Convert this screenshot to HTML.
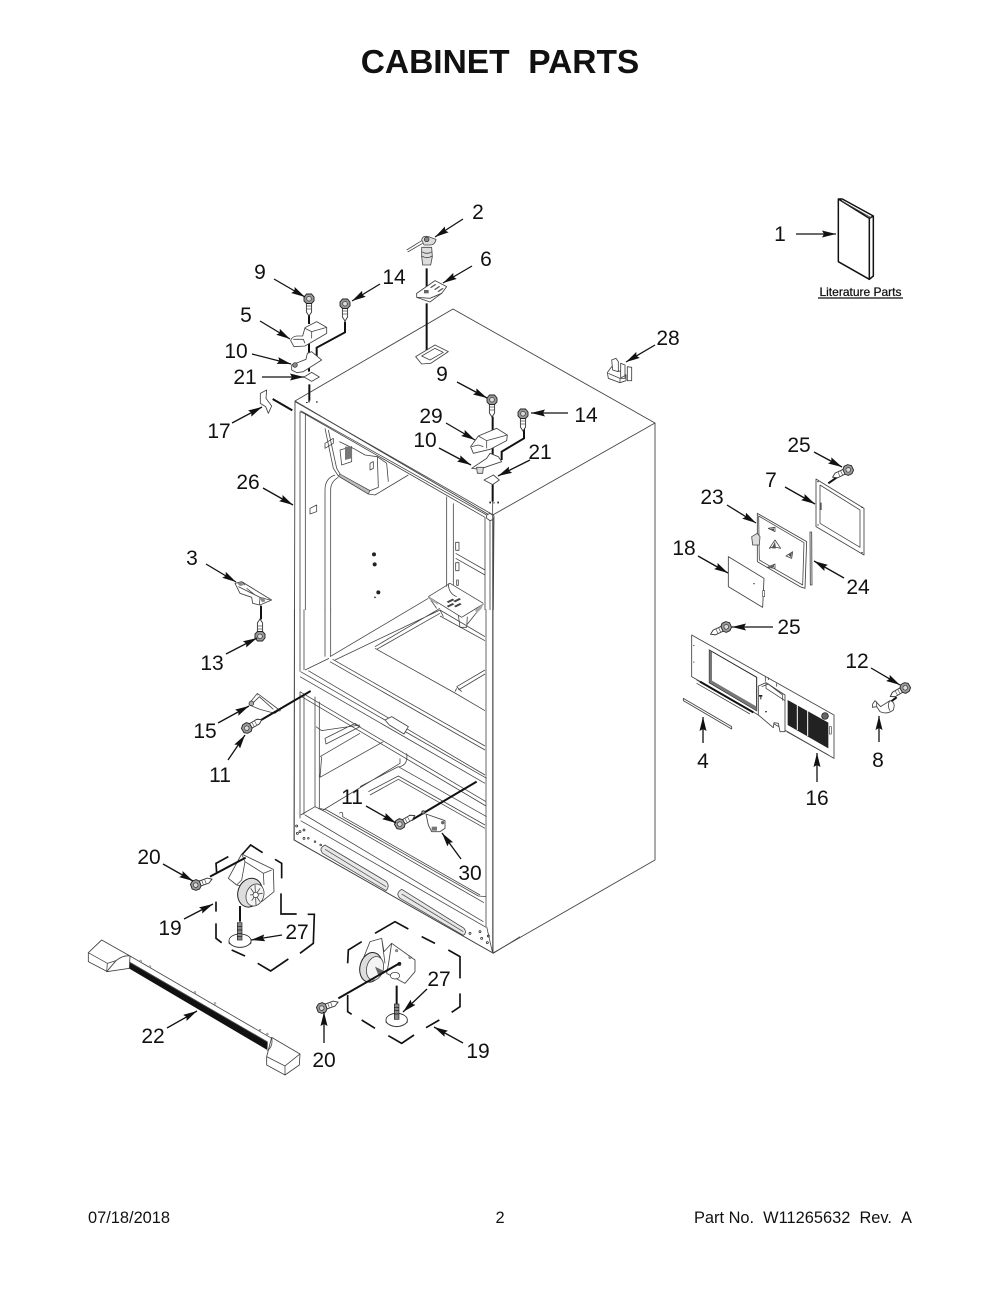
<!DOCTYPE html>
<html><head><meta charset="utf-8"><title>Cabinet Parts</title>
<style>
html,body{margin:0;padding:0;background:#fff}
svg{display:block}
text{font-family:"Liberation Sans",Arial,sans-serif;fill:#111}
.l text{font-size:21px;text-anchor:middle}
.a line{stroke:#111;stroke-width:1.3;marker-end:url(#ah)}
.t{fill:none;stroke:#444;stroke-width:2.4;stroke-linejoin:round}
.p{fill:#fff;stroke:#444;stroke-width:2.6;stroke-linejoin:round}
.g{fill:#ddd;stroke:#444;stroke-width:2.4;stroke-linejoin:round}
.k{fill:none;stroke:#111;stroke-width:6}
.d{fill:none;stroke:#111;stroke-width:5}
.c{fill:none;stroke:#555;stroke-width:2.4}
</style></head><body>
<svg width="1000" height="1294" viewBox="0 0 1000 1294" xmlns="http://www.w3.org/2000/svg">
<defs>
<marker id="ah" markerUnits="userSpaceOnUse" markerWidth="15" markerHeight="8" refX="14" refY="3.5" orient="auto"><path d="M0,0 L14,3.5 L0,7 L2,3.5 z" fill="#111"/></marker>
<g id="bolt"><path d="M-2.6,4 L-2.6,13 L0,17 L2.6,13 L2.6,4 z" fill="#fff" stroke="#333" stroke-width=".9"/><path d="M-2.6,7 H2.6 M-2.6,10 H2.6" stroke="#555" stroke-width=".7"/><path d="M-5,-2 L-2.5,-5 L2.5,-5 L5,-2 L5,2 L2.5,4.5 L-2.5,4.5 L-5,2 z" fill="#999" stroke="#222" stroke-width=".9"/><circle cx="0" cy="-.3" r="2.3" fill="#ddd" stroke="#333" stroke-width=".7"/></g>
</defs>
<rect width="1000" height="1294" fill="#fff"/>

<text x="500" y="73" text-anchor="middle" font-size="33.5" font-weight="bold">CABINET&#160;&#160;PARTS</text>
<text x="88" y="1223" font-size="16.4">07/18/2018</text>
<text x="500" y="1223" font-size="16.4" text-anchor="middle">2</text>
<text x="912" y="1223" font-size="16.4" text-anchor="end">Part No.&#160;&#160;W11265632&#160;&#160;Rev.&#160;&#160;A</text>

<!-- cabinet shell -->
<g fill="none" stroke="#444" stroke-width=".9">
<path d="M295,401 L453,309 L655,423 L655,860 L493,953 L294,840 Z"/>
<path d="M491,516 L655,423 M493,520 L493,953 M491,516 L295,401"/>
</g>

<!-- upper interior -->
<g transform="translate(290,400) scale(.33333)">
<path class="t" d="M15,5 L610,345 M32,32 L590,345 M45,42 L585,352 L585,630 M30,35 L30,630 M46,42 L46,630 M30,35 L46,42"/>
<path class="t" d="M600,340 L612,350 L610,630 M590,345 L600,355 L600,630"/>
<path class="t" d="M105,270 Q105,235 135,225 M122,630 L122,270 Q122,245 145,232 M105,270 L105,630"/>
<path class="t" d="M105,85 L130,205 L145,228 L235,282 L255,285 L355,225 M115,90 L140,205 L152,225 L240,272 L265,262 L262,170 L290,190 L295,245"/>
<path class="t" d="M148,125 L190,145 L225,165 L262,170 M150,150 L185,140 L185,185 L155,195 Z M240,190 L250,185 L250,205 L240,210 Z M105,130 L130,115 L130,130 L105,145 Z"/>
<path d="M165,140 L183,140 L183,175 L165,180 Z" fill="#777"/>
<path d="M150,222 L240,272 L235,282 L145,228 Z" fill="#bbb" stroke="#444" stroke-width="2"/>
<path class="t" d="M470,290 L470,560 M490,310 L490,555 M497,460 L585,510 M497,475 L585,525"/>
<rect class="t" x="497" y="427" width="10" height="24"/><rect class="t" x="497" y="488" width="10" height="24"/><rect class="t" x="500" y="540" width="5" height="16"/>
<path class="t" d="M60,325 L80,315 L80,335 L60,342 Z"/>
<circle cx="252" cy="463" r="6" fill="#222"/><circle cx="254" cy="493" r="6" fill="#222"/><circle cx="265" cy="577" r="6" fill="#222"/><circle cx="255" cy="592" r="2.5" fill="#222"/>
<path class="p" d="M590,345 L600,340 L612,348 L610,358 L600,362 L590,355 Z"/>
</g>

<!-- lower body -->
<g transform="translate(280,500) scale(.33333)">
<path class="t" d="M60,328 L60,515 M72,328 L72,510 M135,328 L135,470 M152,328 L152,468 M618,328 L618,1280 M60,575 L60,955 M72,585 L72,945"/>
<path class="t" d="M43,328 L43,1020"/>
<path class="t" d="M62,515 L620,835 M75,510 L147,475 M150,485 L615,750 M158,478 L615,738 M85,512 L615,825 M60,530 L615,850 M60,575 L618,905 M60,587 L618,918"/>
<path class="t" d="M150,470 L445,295 M165,480 L480,330 M285,440 L480,325 M290,448 L480,340 M285,445 L530,582 L615,632 M530,560 L615,510 M535,570 L615,522 M480,330 L615,410 M480,348 L615,422 M480,330 L490,350"/>
<path class="t" d="M445,290 L510,250 L530,262 L610,310 M445,290 L545,352 L610,312 M445,290 L470,325 M535,345 L540,382 L560,382 L562,350 M610,312 L560,375 M505,250 Q505,280 530,290"/>
<path d="M500,305 l18,-9 l5,4 l-18,9z M500,318 l18,-9 l5,4 l-18,9z M522,318 l18,-9 l5,4 l-18,9z M520,303 l18,-9 l5,4 l-18,9z" fill="#444"/>
<path d="M445,290 L470,305 L475,315 L450,300Z M585,330 L610,310 L605,325 L590,340Z" fill="#aaa"/>
<path class="t" d="M530,560 L545,575 M530,565 L525,575"/>
<path class="p" d="M315,660 L335,650 L385,680 L372,702 L328,675 Z"/>
<path class="t" d="M105,590 L105,920 M118,605 L118,925 M108,680 L125,692 L240,675 M135,715 L225,670 L240,680 L138,732 Z M120,770 L240,700 M120,832 L310,725 M125,770 L120,832"/>
<path class="t" d="M360,775 L360,790 L130,930 M380,760 Q385,795 358,800 M240,860 L355,800 L620,950 M265,875 L355,828 L615,975 M270,885 L355,838 L615,985"/>
<path class="t" d="M62,945 L105,920 L135,935 M75,945 L610,1265 M62,962 L618,1282 M140,930 L595,1188 L618,1190 M118,925 L140,930 M135,935 L612,1208 M178,940 Q190,930 188,950 L600,1185"/>
<path class="t" d="M43,1020 L640,1360 L720,1310 M620,1280 L638,1360 M638,0 L638,1360"/>
<path d="M135,1035 L320,1145 Q330,1160 318,1172 L128,1060 Q115,1045 135,1035 Z" fill="#e8e8e8" stroke="#444" stroke-width="2.4"/>
<path d="M365,1168 L552,1285 Q562,1298 550,1306 L360,1195 Q345,1180 365,1168 Z" fill="#e8e8e8" stroke="#444" stroke-width="2.4"/>
<path class="c" stroke-width="3" d="M135,1048 L318,1160 M365,1182 L550,1295"/>
<g fill="none" stroke="#222" stroke-width="2.2"><circle cx="50" cy="978" r="3"/><circle cx="60" cy="995" r="3"/><circle cx="72" cy="990" r="3"/><circle cx="52" cy="1000" r="3"/><circle cx="72" cy="1015" r="3"/><circle cx="85" cy="1015" r="2.5"/><circle cx="105" cy="1025" r="2.5"/><circle cx="122" cy="1035" r="2.5"/><circle cx="570" cy="1300" r="3"/><circle cx="600" cy="1295" r="3"/><circle cx="605" cy="1315" r="3"/><circle cx="625" cy="1308" r="3"/><circle cx="622" cy="1328" r="3"/></g>
<path class="k" d="M395,960 L590,845"/>
<circle cx="430" cy="937" r="5" fill="#888" stroke="#222" stroke-width="2"/>
<!-- part 30 -->
<path class="p" d="M438,942 L495,962 L495,985 L480,995 L455,995 L445,975 Z"/>
<path d="M455,980 l16,0 l0,12 l-16,0z" fill="#777"/><circle cx="488" cy="968" r="5" fill="#666"/>
</g>

<!-- top parts -->
<g transform="translate(200,190) scale(.33333)">
<!-- part 2 -->
<path class="t" d="M620,180 L665,152 M623,186 L668,160"/>
<path class="g" d="M665,172 L695,172 L697,200 L692,225 L668,225 L665,200 Z"/>
<path class="t" d="M665,185 Q680,195 697,185 M665,198 Q680,208 697,198"/>
<path class="g" d="M665,150 Q668,135 685,140 L708,148 Q705,165 690,165 L672,165 Z"/>
<circle cx="680" cy="148" r="7" fill="#888" stroke="#222" stroke-width="2"/>
<path class="k" d="M680,235 V302 M680,340 V507"/>
<!-- part 6 -->
<path class="p" d="M650,310 L705,272 L740,290 L725,310 L690,325 L650,322 Z"/>
<path d="M690,292 l15,-10 l4,2 l-15,10z M702,298 l15,-10 l4,2 l-15,10z M712,304 l15,-10 l4,2 l-15,10z" fill="#555"/>
<rect x="672" y="300" width="14" height="10" fill="#666"/>
<path class="t" d="M650,322 L690,336 L725,310"/>
<!-- top plate -->
<path class="p" d="M647,500 L705,465 L745,485 L692,520 L665,522 Z"/>
<path class="t" d="M665,498 L705,475 L730,487 L690,510 Z"/>
<!-- left set -->
<path class="k" d="M327,375 V402 M327,458 V490 M327,525 V545 M328,583 V632 M435,395 V427 L350,473 V500"/>
<path class="p" d="M272,452 Q275,440 290,438 L308,438 L315,413 L350,395 L380,412 L380,430 L315,468 L282,470 Z"/>
<path class="t" d="M280,448 L310,448 L315,460 M315,415 L335,425 L380,412 M335,425 L335,445"/>
<path class="p" d="M275,525 L318,508 L322,490 L335,485 L365,510 L310,545 L290,548 L275,540 Z"/>
<circle cx="285" cy="525" r="7" fill="#888" stroke="#222" stroke-width="2"/>
<path class="p" d="M312,561 L335,547 L358,561 L335,574 Z"/>
<path d="M325,632 h4 v5 h-4z M348,634 h5 v4 h-5z M318,636 h5 v3 h-5z" fill="#222"/>
<!-- part 17 -->
<path class="p" d="M181,610 L200,600 L198,625 L215,648 L205,670 L197,650 L181,640 Z"/>
<path class="k" d="M218,627 L277,661"/>
<!-- right set -->
<path class="k" d="M878,680 V742 M878,772 V802 M878,880 V935 M972,715 V745 L905,785 V810"/>
<path class="p" d="M812,770 L835,738 L890,715 L922,735 L920,752 L870,778 L820,790 Z"/>
<path class="t" d="M815,770 L835,765 L850,770 M835,738 L860,752 L922,735 M860,752 L860,775"/>
<path class="p" d="M815,835 L860,805 L870,790 L895,800 L905,815 L860,830 L840,838 Z"/>
<path class="g" d="M830,832 L850,832 L848,850 L832,850 Z"/>
<path class="p" d="M852,870 L880,855 L898,870 L878,884 Z"/>
<path d="M868,935 h5 v5 h-5z M892,935 h5 v5 h-5z M880,937 h4 v3 h-4z" fill="#222"/>
</g>

<!-- booklet and 28 -->
<g transform="translate(590,190) scale(.33333)">
<path d="M745,27 L850,78 L850,240 L835,270 L745,215 Z" fill="#fff"/>
<path fill="none" stroke="#111" stroke-width="4.5" stroke-linejoin="round" d="M745,27 L838,85 L838,268 L745,215 Z M745,27 L757,27 L850,78 L850,258 L838,268 M838,85 L850,78"/>
<path class="t" d="M757,34 L845,84"/>
<path class="p" d="M52,548 L65,530 L80,540 L100,548 L108,555 L108,572 L90,578 L55,565 Z"/>
<path class="p" d="M65,510 L78,505 L85,515 L85,545 L68,540 Z"/>
<path class="p" d="M92,520 L105,525 L105,565 L92,565 Z"/>
<path class="p" d="M112,530 L125,532 L125,572 L112,572 Z"/>
<path class="t" d="M55,550 L90,565 L90,578 M90,565 L108,555"/>
</g>
<text x="860.5" y="296" text-anchor="middle" font-size="12" stroke="#111" stroke-width=".25">Literature Parts</text>
<line x1="818" y1="298" x2="903" y2="298" stroke="#111" stroke-width="1.3"/>

<!-- left parts -->
<g transform="translate(180,540) scale(.33333)">
<path class="p" d="M165,130 L185,125 L275,180 L240,195 L218,190 L215,172 L180,160 Z"/>
<path class="t" d="M175,140 L240,172 L270,180 M185,125 L195,135 M240,172 L238,195 M200,145 L225,165"/>
<path d="M172,130 l12,-3 l8,8 l-12,3z M240,175 l12,-3 l4,12 l-10,3z" fill="#888"/>
<path class="k" stroke-width="5" d="M243,197 V238"/>
<path class="t" d="M208,490 L232,460 L298,510 L285,520 L240,508 L208,495 Z M218,490 L238,470 L280,508"/>
<circle cx="214" cy="490" r="7" fill="#aaa" stroke="#222" stroke-width="2"/>
<circle cx="233" cy="463" r="3" fill="#888"/>
<circle cx="298" cy="510" r="5" fill="#999"/>
<path class="k" d="M235,545 L392,453"/>
</g>

<!-- right parts -->
<g transform="translate(660,430) scale(.33333)">
<path class="p" d="M468,147 L612,235 L612,375 L468,290 Z"/>
<path class="t" d="M480,165 L600,240 L600,352 L480,280 Z"/>
<rect x="479" y="218" width="6" height="22" fill="#555"/>
<circle cx="474" cy="155" r="2" fill="#222"/><circle cx="606" cy="232" r="2" fill="#222"/><circle cx="606" cy="368" r="2" fill="#222"/><circle cx="474" cy="285" r="2" fill="#222"/>
<path class="k" stroke-width="3.5" d="M505,160 L545,132"/>
<path class="p" d="M292,250 L440,335 L435,475 L420,470 L292,395 Z"/>
<path class="t" stroke-width="3" d="M296,258 L432,338 L428,465 L298,390 Z"/>
<path class="g" d="M275,320 L292,310 L300,320 L298,345 L278,345 Z"/>
<path class="t" d="M328,355 L345,330 L362,355 L340,350 Z M378,378 L398,365 L395,385 Z M325,295 L345,292 L345,305 Z M322,412 L345,402 L345,415 Z"/>
<path d="M335,355 L345,335 L348,355Z M385,375 L396,368 L393,382Z M330,297 l12,-2 l0,8z M330,410 l12,-5 l0,6z" fill="#555"/>
<path class="p" d="M450,306 L455,306 L456,465 L451,465 Z"/>
<path class="p" d="M205,380 L312,445 L308,532 L205,470 Z"/>
<circle cx="282" cy="461" r="2" fill="#222"/><rect x="308" y="482" width="6" height="18" fill="#fff" stroke="#444" stroke-width="2"/>
<!-- panel 16 -->
<path class="p" d="M95,615 L522,855 L522,985 L95,740 Z"/>
<path class="t" d="M110,750 L270,842 M110,760 L270,852 M380,905 L505,975"/>
<path d="M148,660 L290,742 L290,842 L148,758 Z" fill="#fff" stroke="#222" stroke-width="3"/>
<path d="M148,660 L156,666 L156,752 L148,758 Z M148,758 L156,752 L290,830 L290,842 Z" fill="#777"/>
<path class="k" stroke-width="3" d="M120,755 L280,847"/>
<path d="M383,810 L505,878 L505,955 L383,885 Z" fill="#222"/>
<path d="M412,825 L412,900 M443,842 L443,918" stroke="#fff" stroke-width="3"/>
<circle cx="495" cy="858" r="10" fill="#666" stroke="#111" stroke-width="2"/>
<rect x="508" y="890" width="6" height="22" fill="#fff" stroke="#444" stroke-width="2"/>
<path class="p" d="M295,768 L318,758 L375,795 L375,905 L360,905 L355,880 L342,878 L340,893 L295,855 Z"/>
<path class="t" d="M305,770 L325,762 L368,795 L368,812 M318,758 L318,775 L375,812"/>
<path d="M297,795 h10 v5 h-3 v8 h-3 v-8 h-4z" fill="#222"/><circle cx="318" cy="845" r="2.5" fill="#222"/>
<path d="M100,645 h3 v3 h-3z M100,695 h3 v3 h-3z" fill="#222"/>
<path class="t" d="M316,740 L316,755 M325,742 L325,750 M350,760 L350,770"/>
<!-- part 4 -->
<path class="p" d="M70,805 L215,890 L215,897 L70,812 Z"/>
<!-- part 8 -->
<path class="k" stroke-width="4" d="M672,830 L710,802"/>
<path class="p" d="M638,822 L645,812 L662,830 L690,812 Q708,815 700,840 Q680,855 660,845 L650,830 L637,832 Z"/>
<path class="t" d="M690,812 Q680,825 690,842 M650,815 L650,830"/>
</g>

<!-- casters and bar -->
<g transform="translate(80,830) scale(.33333)">
<path class="d" d="M410,130 L408,100 L445,80 M485,75 L512,45 L548,68 M585,88 L605,100 L605,145 M603,190 L603,252 L650,252 M683,253 L703,253 L700,340 L660,370 M625,387 L572,423 L533,400 M495,378 L455,360 M425,338 L408,325 L408,280 M408,215 L408,245"/>
<path class="d" d="M803,400 L805,360 L845,335 M885,310 L945,275 L985,297 M1025,320 L1065,340 M1105,360 L1140,380 L1140,445 M1140,490 L1140,530 L1115,547 M1078,570 L1038,593 M1002,615 L965,640 L925,617 M885,595 L845,570 M815,553 L803,545 L803,495"/>
<!-- caster top -->
<path class="p" d="M445,145 L485,72 L580,118 L582,185 L545,215 L520,175 L470,165 Z"/>
<path class="t" d="M485,72 L495,95 L550,130 L575,120 M495,95 L485,150 L470,165 M550,130 L552,165"/>
<ellipse cx="510" cy="188" rx="36" ry="44" fill="#ddd" stroke="#222" stroke-width="3" transform="rotate(20 510 188)"/>
<ellipse cx="525" cy="195" rx="26" ry="34" fill="#f4f4f4" stroke="#444" stroke-width="2.4" transform="rotate(20 525 195)"/>
<path class="t" d="M510,195 L548,190 M525,165 L528,225 M512,175 L540,215 M540,175 L515,212"/>
<circle cx="527" cy="195" r="8" fill="#fff" stroke="#222" stroke-width="2"/>
<path class="k" d="M480,228 V275"/>
<ellipse cx="480" cy="332" rx="33" ry="20" fill="#fff" stroke="#222" stroke-width="2.4"/>
<path class="t" d="M447,332 V340 Q480,365 513,340 V332"/>
<rect x="472" y="278" width="14" height="52" fill="#888" stroke="#222" stroke-width="2"/>
<path d="M472,290 h14 M472,300 h14 M472,310 h14 M472,320 h14" stroke="#111" stroke-width="2"/>
<path class="k" d="M390,140 L497,83"/>
<!-- caster bottom -->
<ellipse cx="873" cy="412" rx="33" ry="45" fill="#ddd" stroke="#222" stroke-width="3" transform="rotate(15 873 412)"/>
<ellipse cx="885" cy="415" rx="25" ry="36" fill="#f4f4f4" stroke="#444" stroke-width="2.4" transform="rotate(15 885 415)"/>
<path class="t" d="M850,385 L870,335 L905,325 L915,400 M905,325 L912,365 L935,340"/>
<path class="p" d="M935,340 L1005,390 L1005,425 L975,460 L920,430 L925,405 Z"/>
<ellipse cx="945" cy="437" rx="14" ry="10" fill="#fff" stroke="#222" stroke-width="2"/>
<circle cx="958" cy="402" r="6" fill="#444"/><circle cx="990" cy="382" r="4" fill="#999" stroke="#222"/><circle cx="950" cy="362" r="4" fill="#999" stroke="#222"/>
<path d="M885,410 L915,425 L895,435Z" fill="#666"/>
<path class="k" d="M775,505 L962,398 M950,467 V522"/>
<ellipse cx="950" cy="570" rx="32" ry="20" fill="#fff" stroke="#222" stroke-width="2.4"/>
<path class="t" d="M918,570 V577 Q950,602 982,577 V570"/>
<rect x="943" y="522" width="14" height="46" fill="#888" stroke="#222" stroke-width="2"/>
<path d="M943,532 h14 M943,542 h14 M943,552 h14" stroke="#111" stroke-width="2"/>
<!-- bar 22 -->
<path class="t" stroke-width="2.4" d="M150,378 L575,625"/>
<path d="M148,397 L563,637 L562,660 L148,416 Z" fill="#111"/>
<path class="t" d="M148,396 L563,636"/>
<path class="p" d="M25,368 L65,330 L150,378 Q130,375 108,392 L82,425 L25,395 Z"/>
<path class="p" d="M150,378 L148,415 L80,425 L108,392 Q130,375 150,378 Z"/>
<path class="t" d="M25,368 L82,400 L108,392 M82,400 L80,425"/>
<path class="p" d="M560,680 L575,622 L660,672 L658,705 L615,735 L560,705 Z"/>
<path class="t" d="M560,680 L615,708 L660,672 M615,708 L615,735 M575,622 Q580,650 562,662"/>
<circle cx="182" cy="393" r="3" fill="#ccc" stroke="#444"/><circle cx="210" cy="410" r="3" fill="#ccc" stroke="#444"/><circle cx="345" cy="487" r="3" fill="#ccc" stroke="#444"/><circle cx="405" cy="520" r="3" fill="#ccc" stroke="#444"/><circle cx="540" cy="600" r="3" fill="#ccc" stroke="#444"/><circle cx="562" cy="612" r="3" fill="#ccc" stroke="#444"/>
</g>

<!-- bolts -->
<use href="#bolt" transform="translate(309,299)"/>
<use href="#bolt" transform="translate(345,304)"/>
<use href="#bolt" transform="translate(492,400)"/>
<use href="#bolt" transform="translate(523,414)"/>
<use href="#bolt" transform="translate(260,636) rotate(180)"/>
<use href="#bolt" transform="translate(247,728) rotate(-120)"/>
<use href="#bolt" transform="translate(400,824) rotate(-120)"/>
<use href="#bolt" transform="translate(196,885) rotate(-110)"/>
<use href="#bolt" transform="translate(322,1008) rotate(-110)"/>
<use href="#bolt" transform="translate(848,470) rotate(65)"/>
<use href="#bolt" transform="translate(726,627) rotate(65)"/>
<use href="#bolt" transform="translate(905,688) rotate(60)"/>

<!-- callout arrows -->
<g class="a">
<line x1="463" y1="219" x2="435" y2="237"/>
<line x1="472" y1="266" x2="443" y2="283"/>
<line x1="796" y1="234" x2="836" y2="234"/>
<line x1="274" y1="279" x2="305" y2="297"/>
<line x1="380" y1="284" x2="352" y2="301"/>
<line x1="260" y1="321" x2="290" y2="339"/>
<line x1="252" y1="354" x2="291" y2="364"/>
<line x1="262" y1="377" x2="304" y2="377"/>
<line x1="232" y1="423" x2="262" y2="407"/>
<line x1="263" y1="488" x2="293" y2="505"/>
<line x1="457" y1="382" x2="487" y2="398"/>
<line x1="568" y1="413" x2="531" y2="413"/>
<line x1="446" y1="423" x2="475" y2="440"/>
<line x1="439" y1="448" x2="471" y2="465"/>
<line x1="530" y1="460" x2="498" y2="476"/>
<line x1="206" y1="564" x2="236" y2="582"/>
<line x1="226" y1="654" x2="257" y2="638"/>
<line x1="218" y1="723" x2="249" y2="706"/>
<line x1="228" y1="760" x2="245" y2="735"/>
<line x1="366" y1="806" x2="396" y2="823"/>
<line x1="461" y1="859" x2="442" y2="833"/>
<line x1="814" y1="452" x2="842" y2="467"/>
<line x1="785" y1="487" x2="815" y2="504"/>
<line x1="727" y1="505" x2="756" y2="523"/>
<line x1="698" y1="556" x2="728" y2="573"/>
<line x1="844" y1="578" x2="814" y2="561"/>
<line x1="773" y1="627" x2="732" y2="627"/>
<line x1="871" y1="668" x2="900" y2="685"/>
<line x1="879" y1="742" x2="879" y2="716"/>
<line x1="817" y1="782" x2="817" y2="753"/>
<line x1="703" y1="743" x2="703" y2="717"/>
<line x1="655" y1="345" x2="626" y2="362"/>
<line x1="163" y1="864" x2="193" y2="881"/>
<line x1="184" y1="919" x2="213" y2="904"/>
<line x1="282" y1="935" x2="251" y2="940"/>
<line x1="427" y1="989" x2="403" y2="1012"/>
<line x1="167" y1="1028" x2="197" y2="1011"/>
<line x1="324" y1="1043" x2="324" y2="1012"/>
<line x1="463" y1="1043" x2="434" y2="1027"/>
</g>

<!-- callout numbers -->
<g class="l">
<text x="478" y="219">2</text><text x="486" y="266">6</text><text x="780" y="241">1</text>
<text x="260" y="279">9</text><text x="394" y="284">14</text><text x="246" y="322">5</text>
<text x="236" y="358">10</text><text x="245" y="384">21</text><text x="668" y="345">28</text>
<text x="442" y="381">9</text><text x="586" y="422">14</text><text x="431" y="423">29</text>
<text x="425" y="447">10</text><text x="540" y="459">21</text><text x="219" y="438">17</text>
<text x="248" y="489">26</text><text x="799" y="452">25</text><text x="771" y="487">7</text>
<text x="712" y="504">23</text><text x="684" y="555">18</text><text x="858" y="594">24</text>
<text x="192" y="565">3</text><text x="212" y="670">13</text><text x="789" y="634">25</text>
<text x="857" y="668">12</text><text x="205" y="738">15</text><text x="220" y="782">11</text>
<text x="703" y="768">4</text><text x="878" y="767">8</text><text x="817" y="805">16</text>
<text x="352" y="804">11</text><text x="470" y="880">30</text><text x="149" y="864">20</text>
<text x="170" y="935">19</text><text x="297" y="939">27</text><text x="439" y="986">27</text>
<text x="153" y="1043">22</text><text x="324" y="1067">20</text><text x="478" y="1058">19</text>
</g>
</svg>
</body></html>
